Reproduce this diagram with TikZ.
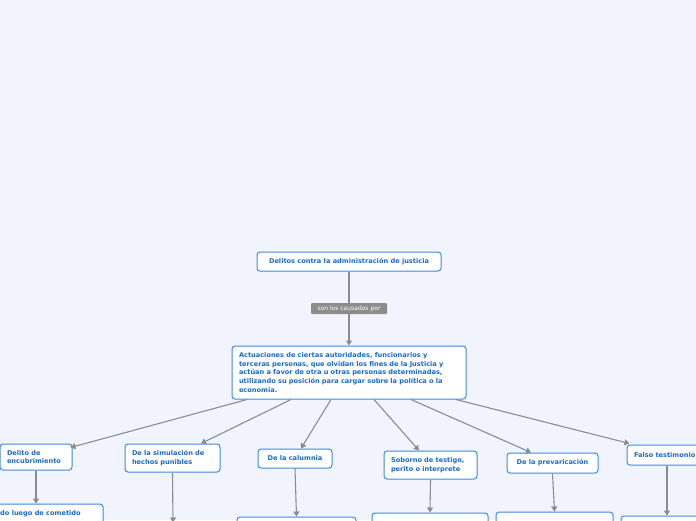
\documentclass[tikz,border=0pt]{standalone}
\usepackage{fontspec}
\setmainfont{DejaVu Sans}
\usetikzlibrary{arrows.meta}
\definecolor{bgc}{HTML}{F1F4FC}
\definecolor{bordc}{HTML}{3D8BE0}
\definecolor{txtc}{HTML}{1A6BCC}
\definecolor{linec}{HTML}{8B8C91}
\definecolor{labc}{HTML}{8C8C8C}
\tikzset{
  topic/.style={draw=bordc, line width=1pt, fill=white, rounded corners=3pt,
    text=txtc, font=\fontsize{6.6}{8.8}\selectfont\bfseries, align=left,
    inner xsep=7pt, inner ysep=2pt, anchor=center},
  lab/.style={fill=labc, text=white, rounded corners=1pt, font=\fontsize{6}{7}\selectfont,
    minimum width=76pt, minimum height=11pt, inner sep=1pt},
  conn/.style={draw=linec, line width=1.1pt, -{Triangle[width=6pt,length=5pt]}},
  plain/.style={draw=linec, line width=1.1pt}
}
\begin{document}
\begin{tikzpicture}[x=1pt,y=-1pt]
\fill[bgc] (0,0) rectangle (696,520);
\useasboundingbox (0,0) rectangle (696,520);
\clip (0,0) rectangle (696,520);

\node[topic, minimum width=184pt, minimum height=19pt, align=center] (root) at (349,261.5) {Delitos contra la administración de justicia};
\node[topic, minimum width=234pt, minimum height=53pt, text width=220pt] (main) at (349,372.5) {Actuaciones de ciertas autoridades, funcionarios y\\terceras personas, que olvidan los fines de la Justicia y\\actúan a favor de otra u otras personas determinadas,\\utilizando su posición para cargar sobre la política o la\\economía.};

\draw[plain] (root.south) -- (349,303);
\node[lab] (lbl) at (349,308.5) {son los causados por};
\draw[conn] (lbl.south) -- (main.north);

\node[topic, minimum width=72pt, minimum height=26pt, text width=58pt] (enc) at (36,457) {Delito de\\encubrimiento};
\node[topic, minimum width=95pt, minimum height=28pt, text width=81pt] (sim) at (172.5,458) {De la simulación de\\hechos punibles};
\node[topic, minimum width=74pt, minimum height=19pt, align=center] (cal) at (295,458.5) {De la calumnia};
\node[topic, minimum width=93pt, minimum height=28pt, text width=79pt] (sob) at (430.5,465) {Soborno de testigo,\\perito o interprete};
\node[topic, minimum width=91pt, minimum height=20pt, align=center] (pre) at (552.5,463) {De la prevaricación};
\node[topic, minimum width=80pt, minimum height=20pt, text width=66pt] (fal) at (667,455) {Falso testimonio};

\draw[conn] ([xshift=-102pt]main.south) -- ([xshift=-2pt,yshift=-4pt]enc.north east);
\draw[conn] ([xshift=-58pt]main.south) -- ([xshift=28.5pt]sim.north);
\draw[conn] ([xshift=-18pt]main.south) -- ([xshift=6pt]cal.north);
\draw[conn] ([xshift=25pt]main.south) -- ([xshift=-11.5pt]sob.north);
\draw[conn] ([xshift=62pt]main.south) -- ([xshift=-21.5pt]pre.north);
\draw[conn] ([xshift=107pt]main.south) -- ([xshift=3pt,yshift=1pt]fal.north west);

% lower (cut) nodes
\node[topic, minimum width=134pt, minimum height=40pt] (enc2) at (36,524) {};
\node[text=txtc, font=\fontsize{6.6}{8.8}\selectfont\bfseries, anchor=west, inner sep=0pt] (enc2t) at (0,513.5) {do luego de cometido};
\node[topic, minimum width=120pt, minimum height=40pt] (sim2) at (173,543) {};
\node[topic, minimum width=119pt, minimum height=40pt] (cal2) at (296.5,537) {};
\node[topic, minimum width=116pt, minimum height=40pt] (sob2) at (430,533) {};
\node[topic, minimum width=117pt, minimum height=40pt] (pre2) at (554.5,532) {};
\node[topic, minimum width=92pt, minimum height=40pt] (fal2) at (667,536) {};

\draw[conn] (enc.south) -- (enc2.north);
\draw[conn] (sim.south) -- (sim2.north);
\draw[conn] (cal.south) -- (cal2.north);
\draw[conn] (sob.south) -- (sob2.north);
\draw[conn] (pre.south) -- (pre2.north);
\draw[conn] (fal.south) -- (fal2.north);
\end{tikzpicture}
\end{document}
